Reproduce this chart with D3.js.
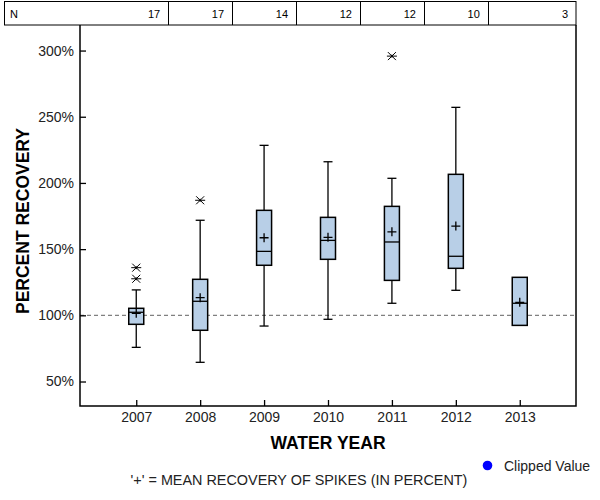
<!DOCTYPE html>
<html>
<head>
<meta charset="utf-8">
<script src="https://d3js.org/d3.v7.min.js"></script>
<style>
  body { margin: 0; background: #fff; }
  text { font-family: "Liberation Sans", Arial, sans-serif; }
</style>
</head>
<body>
<div id="my_dataviz"></div>
<script>
// data (percent recovery)
var years = ["2007", "2008", "2009", "2010", "2011", "2012", "2013"];
var counts = [17, 17, 14, 12, 12, 10, 3];
var whiskLow = [75.8, 64.5, 91.9, 97.0, 109.1, 118.9, null];
var q1 = [93.2, 88.7, 137.8, 142.3, 126.4, 135.5, 92.4];
var medians = [102.3, 110.6, 148.3, 156.6, 155.4, 144.6, 109.1];
var q3 = [105.3, 127.2, 179.3, 174.0, 182.3, 206.5, 128.7];
var whiskHigh = [119.2, 171.8, 228.4, 216.0, 203.5, 257.1, null];
var means = [101.5, 113.3, 158.6, 158.9, 163.1, 167.4, 109.8];
var outliers = [[136.0, 127.6], [186.9], [], [], [295.8], [], []];
var yTicks = [50, 100, 150, 200, 250, 300];

var width = 600, height = 500;
var plotL = 80, plotR = 576, plotT = 25, plotB = 406;

var svg = d3.select("#my_dataviz")
    .append("svg")
    .attr("width", width)
    .attr("height", height);

var x = d3.scalePoint()
    .domain(years)
    .range([plotL, plotR])
    .padding(0.88);

var y = d3.scaleLinear()
    .domain([31.5, 319.3])
    .range([plotB, plotT]);

var data = years.map(function(d, i) {
    return { year: d, n: counts[i], lo: whiskLow[i], q1: q1[i], med: medians[i],
             q3: q3[i], hi: whiskHigh[i], mean: means[i], out: outliers[i] };
});

// N table across the top
var step = x.step();
var edges = [4];
years.forEach(function(d, i) {
    if (i < years.length - 1) edges.push(x(d) + step / 2);
});
edges.push(plotR);

var table = svg.append("g");
table.append("rect")
    .attr("x", 4.5).attr("y", 1.5)
    .attr("width", plotR - 4.5).attr("height", plotT - 1.5)
    .attr("fill", "none").attr("stroke", "#000").attr("stroke-width", 1);
table.selectAll("line.div")
    .data(edges.slice(1, -1))
    .enter().append("line")
    .attr("x1", function(d) { return Math.round(d) + 0.5; })
    .attr("x2", function(d) { return Math.round(d) + 0.5; })
    .attr("y1", 1.5).attr("y2", plotT)
    .attr("stroke", "#000");
table.append("text")
    .attr("x", 10).attr("y", 18)
    .style("font-size", "11px")
    .text("N");
table.selectAll("text.n")
    .data(data)
    .enter().append("text")
    .attr("class", "n")
    .attr("x", function(d, i) { return edges[i + 1] - 8; })
    .attr("y", 18)
    .attr("text-anchor", "end")
    .style("font-size", "11px")
    .text(function(d) { return d.n; });

// reference line at 100%
svg.append("line")
    .attr("x1", plotL).attr("x2", plotR)
    .attr("y1", y(100)).attr("y2", y(100))
    .attr("stroke", "#808080")
    .attr("stroke-width", 1.2)
    .attr("stroke-dasharray", "4,3");

// Y axis
var yAxis = svg.append("g")
    .attr("transform", "translate(" + plotL + ",0)")
    .call(d3.axisRight(y).tickValues(yTicks).tickSize(6).tickFormat(function(d) { return d + "%"; }));
yAxis.select(".domain").remove();
yAxis.selectAll(".tick line").attr("stroke", "#000").attr("stroke-width", 1.3);
yAxis.selectAll(".tick text")
    .attr("x", -6)
    .attr("text-anchor", "end")
    .attr("fill", "#222")
    .style("font-size", "14px")
    .style("font-family", "Liberation Sans, Arial, sans-serif");

// X axis
var xAxis = svg.append("g")
    .attr("transform", "translate(0," + plotB + ")")
    .call(d3.axisTop(x).tickSize(6));
xAxis.select(".domain").remove();
xAxis.selectAll(".tick line").attr("stroke", "#000").attr("stroke-width", 1.3);
xAxis.selectAll(".tick text")
    .attr("y", 16)
    .attr("dy", 0)
    .attr("fill", "#222")
    .style("font-size", "14px")
    .style("font-family", "Liberation Sans, Arial, sans-serif");

// plot frame (left, bottom, right)
svg.append("path")
    .attr("d", "M" + plotL + "," + plotT + "V" + plotB + "H" + plotR + "V" + plotT)
    .attr("fill", "none")
    .attr("stroke", "#000")
    .attr("stroke-width", 1.5);

// boxes
var boxW = 15, capW = 9, plus = 4.5;
var g = svg.selectAll("g.box")
    .data(data)
    .enter().append("g")
    .attr("class", "box")
    .attr("transform", function(d) { return "translate(" + x(d.year) + ",0)"; });

// whiskers
g.filter(function(d) { return d.hi != null; }).each(function(d) {
    var s = d3.select(this);
    s.append("line").attr("x1", 0).attr("x2", 0).attr("y1", y(d.q3)).attr("y2", y(d.hi));
    s.append("line").attr("x1", 0).attr("x2", 0).attr("y1", y(d.q1)).attr("y2", y(d.lo));
    s.append("line").attr("x1", -capW / 2).attr("x2", capW / 2).attr("y1", y(d.hi)).attr("y2", y(d.hi));
    s.append("line").attr("x1", -capW / 2).attr("x2", capW / 2).attr("y1", y(d.lo)).attr("y2", y(d.lo));
});

g.append("rect")
    .attr("x", -boxW / 2)
    .attr("width", boxW)
    .attr("y", function(d) { return y(d.q3); })
    .attr("height", function(d) { return y(d.q1) - y(d.q3); })
    .attr("fill", "#b8cfe7");

g.append("line")
    .attr("x1", -boxW / 2).attr("x2", boxW / 2)
    .attr("y1", function(d) { return y(d.med); })
    .attr("y2", function(d) { return y(d.med); });

// mean markers
g.append("path")
    .attr("d", function(d) {
        var m = y(d.mean);
        return "M" + (-plus) + "," + m + "H" + plus + "M0," + (m - plus) + "V" + (m + plus);
    });

g.selectAll("line, path")
    .attr("stroke", "#000")
    .attr("stroke-width", 1.3)
    .attr("fill", "none");
g.selectAll("rect")
    .attr("stroke", "#000")
    .attr("stroke-width", 1.5);

// outliers drawn as asterisks
g.selectAll("path.out")
    .data(function(d) { return d.out; })
    .enter().append("path")
    .attr("class", "out")
    .attr("transform", function(v) { return "translate(0," + y(v) + ")"; })
    .attr("d", "M-5,0H5M-4,-4L4,4M-4,4L4,-4M0,-1.5V1.5")
    .attr("stroke", "#000")
    .attr("stroke-width", 1)
    .attr("fill", "none");

// axis titles
svg.append("text")
    .attr("transform", "translate(29,221) rotate(-90)")
    .attr("text-anchor", "middle")
    .style("font-size", "17.5px")
    .style("font-weight", "bold")
    .text("PERCENT RECOVERY");

svg.append("text")
    .attr("x", (plotL + plotR) / 2)
    .attr("y", 449)
    .attr("text-anchor", "middle")
    .style("font-size", "17.5px")
    .style("font-weight", "bold")
    .text("WATER YEAR");

// legend
svg.append("circle")
    .attr("cx", 487.5).attr("cy", 465.5).attr("r", 4.8)
    .attr("fill", "#0000ff");
svg.append("text")
    .attr("x", 504).attr("y", 471)
    .attr("fill", "#222")
    .style("font-size", "14px")
    .text("Clipped Value");

svg.append("text")
    .attr("x", 299).attr("y", 484.5)
    .attr("text-anchor", "middle")
    .attr("fill", "#222")
    .style("font-size", "14.4px")
    .text("'+' = MEAN RECOVERY OF SPIKES (IN PERCENT)");
</script>
</body>
</html>
